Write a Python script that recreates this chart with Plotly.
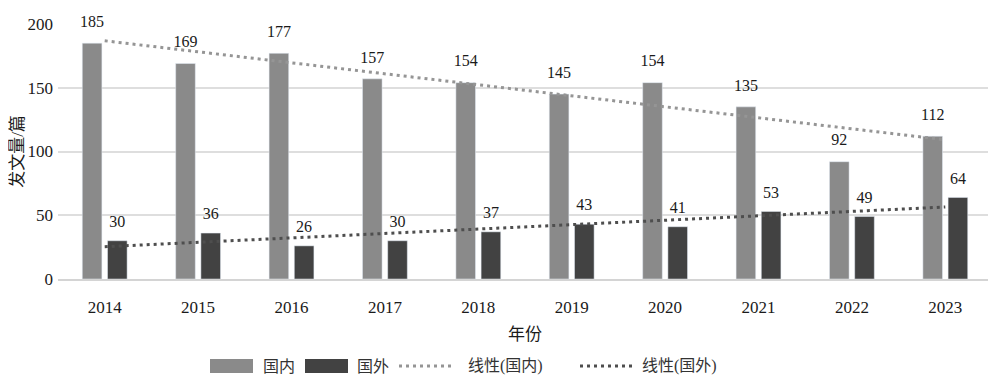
import numpy as np
import plotly.graph_objects as go

years = ["2014", "2015", "2016", "2017", "2018", "2019", "2020", "2021", "2022", "2023"]
domestic = [185, 169, 177, 157, 154, 145, 154, 135, 92, 112]
foreign = [30, 36, 26, 30, 37, 43, 41, 53, 49, 64]
y_ticks = [0, 50, 100, 150, 200]

pos = np.arange(len(years))
# linear trendlines (least-squares fit, as the original spreadsheet does)
k1, b1 = np.polyfit(pos, domestic, 1)
k2, b2 = np.polyfit(pos, foreign, 1)
trend_dom = k1 * pos + b1
trend_for = k2 * pos + b2

FONT = "Liberation Serif, Times New Roman, Noto Sans CJK SC, serif"
C_DOM = "#8a8a8a"
C_FOR = "#424242"
C_TDOM = "#959595"
C_TFOR = "#4e4e4e"
BW = 0.21
OFF_DOM = -0.24
OFF_FOR = 0.03

fig = go.Figure()
fig.add_trace(go.Bar(x=pos, y=domestic, name="国内", marker_color=C_DOM,
                     width=BW, offset=OFF_DOM, showlegend=False))
fig.add_trace(go.Bar(x=pos, y=foreign, name="国外", marker_color=C_FOR,
                     width=BW, offset=OFF_FOR, showlegend=False))
fig.add_trace(go.Scatter(x=pos, y=trend_dom, name="线性(国内)", mode="lines",
                         line=dict(color=C_TDOM, width=3, dash="3px,4px"), showlegend=False))
fig.add_trace(go.Scatter(x=pos, y=trend_for, name="线性(国外)", mode="lines",
                         line=dict(color=C_TFOR, width=3, dash="3px,4px"), showlegend=False))
# data labels
fig.add_trace(go.Scatter(x=pos + OFF_DOM + BW / 2, y=domestic, mode="markers+text",
                         text=[str(v) for v in domestic], textposition="top center",
                         marker=dict(size=18, opacity=0), cliponaxis=False,
                         textfont=dict(size=16, color="#1a1a1a", family=FONT),
                         showlegend=False, hoverinfo="skip"))
fig.add_trace(go.Scatter(x=pos + OFF_FOR + BW / 2, y=foreign, mode="markers+text",
                         text=[str(v) for v in foreign], textposition="top center",
                         marker=dict(size=14, opacity=0), cliponaxis=False,
                         textfont=dict(size=16, color="#1a1a1a", family=FONT),
                         showlegend=False, hoverinfo="skip"))

# custom legend (page-pixel layout converted to paper coords)
L, W, B, H = 58, 934, 279, 255
def px(x):
    return (x - L) / W
def py(y):
    return (B - y) / H

shapes = [
    dict(type="rect", xref="paper", yref="paper", x0=px(210), x1=px(253), y0=py(359), y1=py(373),
         fillcolor=C_DOM, line=dict(width=0)),
    dict(type="rect", xref="paper", yref="paper", x0=px(305), x1=px(348), y0=py(359), y1=py(373),
         fillcolor=C_FOR, line=dict(width=0)),
    dict(type="line", xref="paper", yref="paper", x0=px(399), x1=px(455), y0=py(366), y1=py(366),
         line=dict(color=C_TDOM, width=3, dash="3px,4px")),
    dict(type="line", xref="paper", yref="paper", x0=px(580), x1=px(636), y0=py(366), y1=py(366),
         line=dict(color=C_TFOR, width=3, dash="3px,4px")),
]
legend_text = [("国内", 261), ("国外", 355), ("线性(国内)", 466), ("线性(国外)", 640)]
annotations = [
    dict(text=t, xref="paper", yref="paper", x=px(x0), y=py(366), xanchor="left", yanchor="middle",
         showarrow=False, font=dict(size=16, color="#333333", family=FONT))
    for t, x0 in legend_text
]

# the page body has an 8px default margin, so the figure is 8px smaller
fig.update_layout(
    width=988, height=373,
    margin=dict(l=50, r=4, t=16, b=102, autoexpand=False),
    plot_bgcolor="white", paper_bgcolor="white",
    barmode="overlay",
    font=dict(family=FONT, size=16, color="#1a1a1a"),
    showlegend=False,
    shapes=shapes, annotations=annotations,
)
fig.update_xaxes(
    range=[-0.5, len(years) - 0.5], tickvals=pos, ticktext=years,
    showgrid=False, zeroline=False, showline=True, linecolor="#d4d4d4", linewidth=1.5,
    ticks="", ticklabelstandoff=12, tickfont=dict(size=17, family=FONT),
    title=dict(text="年份", font=dict(size=17, family=FONT), standoff=12),
)
fig.update_yaxes(
    range=[0, 200], tickvals=y_ticks, showgrid=True, gridcolor="#dedede", gridwidth=1.5,
    zeroline=False, showline=False, ticks="", ticklabelstandoff=4,
    tickfont=dict(size=17, family=FONT),
    title=dict(text="发文量/篇", font=dict(size=17, family=FONT), standoff=1),
)

fig.write_html("out.html")
